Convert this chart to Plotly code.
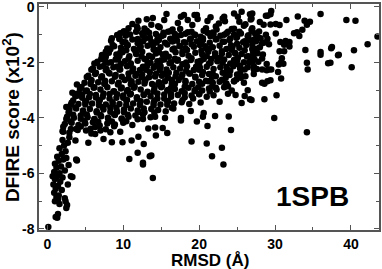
import plotly.graph_objects as go

# ---- native-like streak near RMSD 0-4 ----
streak_x = [0.13, 1.1, 1.4, 1.3, 2.5, 2.6, 2.4, 1.0, 1.2, 0.9, 1.5, 1.1, 0.8, 1.4, 1.7, 1.0, 1.3, 0.9,
            1.6, 2.0, 1.2, 1.8, 1.0, 1.5, 2.1, 1.3, 1.9, 2.4, 1.6, 2.2, 2.7, 2.0, 2.9, 2.5, 3.1, 3.8,
            2.8, 1.9, 2.3, 1.6, 2.7, 3.3, 3.9, 2.3, 1.4, 0.7]
streak_y = [-7.93, -7.57, -7.46, -7.6, -7.25, -7.14, -7.0, -7.0, -6.85, -6.7, -6.8, -6.55, -6.4, -6.45,
            -6.3, -6.2, -6.1, -5.95, -6.0, -6.15, -5.8, -5.75, -5.65, -5.55, -5.5, -5.4, -5.3, -5.2,
            -5.1, -5.0, -4.9, -4.8, -4.7, -5.45, -6.1, -5.5, -5.7, -6.6, -6.9, -7.1, -6.4, -6.13,
            -5.54, -5.9, -6.95, -6.1]

# ---- dense decoy cloud (main rows) ----
core_x = [
    10.1, 11.2, 12.0, 12.8, 13.9, 14.6, 15.4, 16.5, 17.2, 18.0, 19.1, 19.8, 20.6, 21.5, 22.6, 23.4, 24.3, 25.1, 25.9, 26.8, 28.0,
    9.2, 10.0, 10.9, 11.7, 12.6, 13.4, 14.3, 15.0, 15.9, 16.8, 17.6, 18.5, 19.4, 20.2, 21.1, 21.9, 22.8, 23.8, 24.6, 25.5, 26.4, 27.4,
    8.4, 9.5, 10.3, 11.2, 12.1, 12.9, 13.7, 14.7, 15.5, 16.3, 17.1, 18.0, 18.9, 19.7, 20.5, 21.4, 22.3, 23.1, 24.0, 24.9, 25.8, 26.6, 27.5,
    7.9, 8.8, 9.7, 10.6, 11.4, 12.3, 13.2, 14.0, 14.9, 15.8, 16.7, 17.5, 18.4, 19.3, 20.1, 21.0, 21.8, 22.7, 23.6, 24.4, 25.3, 26.2, 27.0, 28.0,
    7.2, 8.1, 9.1, 9.9, 10.8, 11.7, 12.5, 13.4, 14.3, 15.2, 16.0, 16.9, 17.8, 18.6, 19.5, 20.4, 21.2, 22.1, 23.0, 23.9, 24.7, 25.6, 26.5, 27.4, 28.4,
    6.6, 7.5, 8.4, 9.3, 10.2, 11.0, 11.9, 12.8, 13.6, 14.5, 15.4, 16.3, 17.1, 18.0, 18.9, 19.8, 20.6, 21.5, 22.4, 23.3, 24.1, 25.0, 25.9, 26.8, 27.8, 28.9,
    6.0, 6.9, 7.8, 8.7, 9.6, 10.5, 11.3, 12.2, 13.1, 14.0, 14.9, 15.7, 16.6, 17.5, 18.4, 19.3, 20.1, 21.0, 21.9, 22.8, 23.7, 24.5, 25.4, 26.4, 27.6,
    5.4, 6.3, 7.2, 8.1, 9.0, 9.8, 10.7, 11.6, 12.5, 13.4, 14.3, 15.1, 16.0, 16.9, 17.8, 18.7, 19.5, 20.4, 21.3, 22.2, 23.1, 24.0, 25.0, 26.1, 27.2,
    4.9, 5.8, 6.7, 7.6, 8.5, 9.4, 10.2, 11.1, 12.0, 12.9, 13.8, 14.7, 15.5, 16.4, 17.3, 18.2, 19.1, 20.0, 20.9, 21.8, 22.7, 23.6, 24.6,
    4.3, 5.2, 6.1, 7.0, 7.9, 8.8, 9.7, 10.6, 11.4, 12.3, 13.2, 14.1, 15.0, 15.9, 16.8, 17.7, 18.6, 19.5, 20.4, 21.3, 22.3, 23.3, 24.3,
    3.7, 4.6, 5.5, 6.4, 7.3, 8.2, 9.1, 10.0, 10.9, 11.8, 12.7, 13.6, 14.5, 15.4, 16.3, 17.2, 18.1, 19.0, 20.0, 21.0,
    3.2, 4.1, 5.0, 5.9, 6.8, 7.7, 8.6, 9.5, 10.4, 11.3, 12.2, 13.1, 14.0, 14.9, 15.8, 16.7, 17.7, 18.7,
    2.9, 3.8, 4.7, 5.6, 6.5, 7.4, 8.3, 9.2, 10.1, 11.0, 11.9, 12.8, 13.7, 14.6, 15.6, 16.6,
    2.6, 3.5, 4.4, 5.3, 6.2, 7.1, 8.0, 8.9, 9.8, 10.7, 11.6, 12.6, 13.6,
    2.3, 3.2, 4.1, 5.0, 6.0, 6.9, 7.9, 8.9, 10.0, 11.2,
    2.0, 2.9, 4.0, 5.8, 7.0, 8.3, 9.6,
]
core_y = [
    -0.88, -0.62, -0.5, -0.78, -0.4, -0.7, -0.48, -0.82, -0.58, -0.3, -0.66, -0.44, -0.86, -0.38, -0.6, -0.52, -0.8, -0.36, -0.68, -0.46, -0.55,
    -1.02, -0.92, -1.0, -0.9, -1.04, -0.94, -0.98, -1.06, -0.9, -0.98, -1.02, -0.92, -1.0, -1.08, -0.94, -0.98, -1.04, -0.9, -1.0, -0.96, -1.06, -0.98,
    -1.22, -1.16, -1.28, -1.18, -1.24, -1.14, -1.26, -1.2, -1.3, -1.16, -1.22, -1.28, -1.14, -1.24, -1.2, -1.3, -1.16, -1.26, -1.2, -1.12, -1.28, -1.2, -1.24,
    -1.5, -1.42, -1.48, -1.38, -1.52, -1.44, -1.4, -1.54, -1.46, -1.36, -1.5, -1.42, -1.56, -1.44, -1.38, -1.5, -1.46, -1.4, -1.52, -1.44, -1.48, -1.38, -1.52, -1.46,
    -1.74, -1.66, -1.72, -1.64, -1.78, -1.7, -1.62, -1.76, -1.68, -1.72, -1.8, -1.64, -1.7, -1.76, -1.66, -1.72, -1.62, -1.78, -1.68, -1.74, -1.66, -1.7, -1.78, -1.64, -1.72,
    -1.98, -1.92, -2.0, -1.9, -1.96, -2.04, -1.94, -1.88, -2.02, -1.96, -1.9, -2.0, -1.94, -2.06, -1.92, -1.98, -1.88, -2.02, -1.96, -1.9, -2.04, -1.94, -2.0, -1.92, -1.98, -2.06,
    -2.22, -2.16, -2.24, -2.18, -2.26, -2.14, -2.22, -2.28, -2.16, -2.2, -2.12, -2.26, -2.18, -2.22, -2.14, -2.28, -2.2, -2.16, -2.24, -2.18, -2.26, -2.14, -2.22, -2.18, -2.24,
    -2.48, -2.42, -2.5, -2.38, -2.46, -2.52, -2.4, -2.48, -2.44, -2.54, -2.42, -2.48, -2.38, -2.5, -2.44, -2.4, -2.52, -2.46, -2.42, -2.5, -2.38, -2.46, -2.44, -2.5, -2.42,
    -2.74, -2.66, -2.72, -2.78, -2.68, -2.74, -2.64, -2.76, -2.7, -2.66, -2.78, -2.72, -2.68, -2.76, -2.64, -2.72, -2.78, -2.7, -2.66, -2.74, -2.7, -2.76, -2.68,
    -2.96, -3.02, -2.92, -2.98, -2.9, -3.04, -2.94, -3.0, -2.92, -2.98, -3.06, -2.94, -2.9, -3.0, -2.96, -3.04, -2.92, -2.98, -3.02, -2.94, -2.98, -2.9, -3.02,
    -3.22, -3.16, -3.26, -3.18, -3.24, -3.14, -3.28, -3.2, -3.16, -3.26, -3.18, -3.22, -3.3, -3.16, -3.24, -3.18, -3.26, -3.2, -3.14, -3.24,
    -3.46, -3.5, -3.42, -3.48, -3.4, -3.52, -3.44, -3.5, -3.38, -3.48, -3.54, -3.42, -3.46, -3.52, -3.4, -3.48, -3.44, -3.5,
    -3.72, -3.66, -3.74, -3.68, -3.76, -3.7, -3.64, -3.78, -3.7, -3.66, -3.74, -3.8, -3.68, -3.72, -3.76, -3.66,
    -3.96, -4.0, -3.92, -3.98, -4.04, -3.94, -4.0, -3.9, -4.02, -3.96, -3.92, -4.04, -3.98,
    -4.22, -4.18, -4.26, -4.2, -4.16, -4.28, -4.2, -4.24, -4.18, -4.26,
    -4.48, -4.54, -4.44, -4.56, -4.46, -4.52, -4.5,
]

# ---- dense decoy cloud (in-between rows, irregular, with gaps) ----
core2_x = [
    10.4, 11.9, 12.5, 13.1, 14.8, 15.3, 16.2, 17.5, 18.2, 19.0, 20.9, 21.8, 22.3, 23.6, 24.6, 25.3, 26.9,
    9.5, 10.3, 11.9, 12.7, 13.5, 14.5, 15.3, 16.2, 17.0, 18.8, 19.5, 20.5, 21.5, 22.2, 23.3, 24.1, 25.0, 26.5, 27.8,
    8.6, 9.9, 10.5, 11.9, 12.6, 13.9, 14.4, 16.5, 17.4, 18.2, 19.0, 20.3, 20.8, 23.3, 24.2, 25.0, 26.0, 27.0, 28.6,
    7.7, 8.3, 9.6, 10.4, 11.6, 12.1, 14.2, 14.7, 15.6, 16.5, 17.8, 18.2, 20.3, 21.3, 22.1, 23.0, 24.3, 24.8, 26.0, 27.1, 27.6,
    7.1, 7.7, 9.0, 9.5, 10.7, 12.4, 13.0, 13.8, 15.0, 15.5, 16.8, 17.2, 19.0, 20.2, 21.0, 21.6, 22.8, 24.6, 25.1, 26.3, 27.3, 28.3,
    6.2, 7.4, 8.0, 9.2, 9.7, 10.9, 12.6, 13.2, 14.3, 14.9, 16.1, 17.8, 18.3, 19.6, 20.0, 21.3, 23.1, 23.6, 24.8, 25.4, 26.6, 27.2,
    5.8, 6.4, 7.7, 8.2, 9.5, 11.2, 11.7, 13.0, 13.5, 14.8, 15.3, 17.0, 18.3, 18.8, 20.0, 20.5, 21.8, 23.6, 24.1, 25.4, 26.0,
    5.2, 5.8, 7.1, 7.6, 8.9, 10.7, 11.1, 12.4, 12.9, 14.2, 15.9, 16.4, 17.7, 18.2, 19.5, 21.2, 21.7, 23.0, 23.5, 24.9,
    4.5, 5.7, 6.2, 7.5, 9.3, 9.8, 11.0, 11.5, 12.8, 14.6, 15.1, 16.3, 16.8, 18.1, 19.9, 20.4, 21.7, 22.2, 23.5,
    3.9, 5.1, 5.6, 7.4, 8.7, 9.2, 10.5, 11.0, 12.7, 14.0, 14.5, 15.8, 16.3, 18.1, 19.4, 20.0, 21.4,
    3.4, 4.6, 5.1, 6.4, 6.9, 8.2, 10.0, 10.5, 11.8, 12.3, 14.1, 15.4, 15.9, 17.8, 19.2,
    3.1, 3.7, 5.0, 6.8, 7.3, 8.6, 9.1, 10.4, 12.2, 12.7, 14.0, 15.8, 16.4,
    2.8, 3.4, 4.7, 5.2, 6.5, 7.0, 8.3, 8.8, 10.1, 10.6, 12.0, 12.6, 14.1,
    2.5, 3.1, 4.4, 4.9, 6.2, 6.7, 8.0, 8.5, 9.8, 10.4, 11.9,
    2.1, 3.8, 4.4, 5.7, 6.3, 7.7, 8.8,
]
core2_y = [
    -0.92, -0.78, -0.95, -0.86, -0.74, -0.94, -0.88, -0.8, -0.97, -0.9, -0.77, -0.93, -0.82, -0.95, -0.79, -0.9, -0.84,
    -1.14, -1.04, -1.16, -1.02, -1.12, -1.18, -1.03, -1.15, -1.08, -1.17, -1.02, -1.13, -1.06, -1.18, -1.01, -1.14, -1.09, -1.03, -1.12,
    -1.38, -1.27, -1.4, -1.31, -1.24, -1.39, -1.29, -1.25, -1.41, -1.3, -1.35, -1.27, -1.42, -1.26, -1.39, -1.33, -1.24, -1.37, -1.29,
    -1.62, -1.53, -1.66, -1.57, -1.6, -1.51, -1.55, -1.63, -1.69, -1.54, -1.62, -1.5, -1.58, -1.52, -1.67, -1.6, -1.55, -1.69, -1.57, -1.63, -1.51,
    -1.88, -1.79, -1.9, -1.77, -1.86, -1.78, -1.89, -1.81, -1.93, -1.76, -1.87, -1.91, -1.85, -1.94, -1.78, -1.88, -1.83, -1.92, -1.84, -1.79, -1.9, -1.86,
    -2.04, -2.13, -2.02, -2.15, -2.06, -2.11, -2.16, -2.05, -2.12, -2.18, -2.03, -2.07, -2.01, -2.16, -2.1, -2.04, -2.02, -2.17, -2.06, -2.12, -2.0, -2.14,
    -2.27, -2.38, -2.29, -2.4, -2.26, -2.31, -2.42, -2.27, -2.36, -2.29, -2.41, -2.38, -2.3, -2.4, -2.27, -2.35, -2.42, -2.37, -2.3, -2.4, -2.26,
    -2.53, -2.64, -2.55, -2.66, -2.52, -2.57, -2.68, -2.54, -2.62, -2.51, -2.56, -2.64, -2.52, -2.67, -2.55, -2.68, -2.53, -2.63, -2.56, -2.62,
    -2.89, -2.78, -2.9, -2.77, -2.8, -2.91, -2.79, -2.87, -2.76, -2.8, -2.86, -2.92, -2.78, -2.88, -2.9, -2.77, -2.87, -2.92, -2.8,
    -3.13, -3.03, -3.14, -3.12, -3.05, -3.15, -3.04, -3.13, -3.16, -3.05, -3.12, -3.02, -3.14, -3.11, -3.03, -3.15, -3.05,
    -3.38, -3.28, -3.4, -3.27, -3.37, -3.3, -3.28, -3.36, -3.31, -3.4, -3.38, -3.3, -3.41, -3.37, -3.3,
    -3.53, -3.63, -3.52, -3.55, -3.62, -3.51, -3.65, -3.54, -3.52, -3.66, -3.55, -3.53, -3.64,
    -3.8, -3.89, -3.79, -3.88, -3.81, -3.9, -3.78, -3.87, -3.8, -3.89, -3.79, -3.88, -3.82,
    -4.04, -4.13, -4.03, -4.12, -4.05, -4.14, -4.02, -4.13, -4.04, -4.12, -4.05,
    -4.32, -4.4, -4.31, -4.39, -4.33, -4.41, -4.3,
]

# ---- sparse fringe points ----
fringe_x = [27.0, 28.8, 29.5, 28.5, 29.4, 30.1, 30.6, 31.5, 33.0, 36.0, 33.9, 34.6, 34.2, 33.6, 32.9, 32.5,
            33.2, 39.4, 40.6, 43.5, 42.2, 40.4, 40.1, 38.3, 37.4, 37.3, 37.0, 36.0, 36.0, 34.0, 34.2, 34.3,
            31.9, 31.2, 30.6, 30.9, 30.8, 30.5, 31.1, 30.4, 30.8, 29.4, 28.6, 30.2, 28.6, 26.9, 29.9, 34.2,
            29.5, 28.9, 28.3, 27.2, 27.7, 27.2, 27.0, 30.1, 30.7, 31.4, 31.9, 31.2, 28.8, 29.0, 29.2, 28.1,
            28.3, 27.6, 27.2, 27.0, 38.4, 37.5,
            24.2, 21.1, 19.0, 21.0, 23.0, 21.7, 23.2, 13.9, 10.8, 11.9, 12.6, 12.6, 13.5, 12.7, 14.3, 15.2,
            15.8, 19.7, 17.6, 14.2, 15.5, 17.6, 20.5, 20.6, 22.1, 23.9, 18.9, 20.2, 22.7, 21.9, 23.8, 24.8,
            26.0, 26.7, 26.4, 25.6, 13.7, 7.4, 8.5, 9.9, 6.3, 5.1, 3.7, 11.1, 12.0, 13.3, 14.2, 5.4,
            15.7, 13.1, 13.7, 17.6, 18.5, 19.4, 11.8, 10.7, 9.6, 8.5, 7.6, 7.2, 23.3, 24.6, 25.6, 26.7,
            26.9, 19.7, 21.1, 22.2, 23.1, 25.3, 26.1, 27.0, 27.9, 29.0, 29.4, 25.5, 25.9, 24.6, 23.8, 29.0,
            28.3, 29.2, 2.5, 3.3, 3.9, 4.1, 3.1, 2.1]
fringe_y = [-0.24, -0.32, -0.15, -0.65, -0.64, -0.62, -0.66, -0.48, -0.35, -0.26, -0.5, -0.54, -0.65, -0.83,
            -0.92, -0.95, -1.05, -0.48, -0.5, -1.07, -1.35, -1.57, -2.18, -1.75, -1.49, -2.02, -2.03, -1.63,
            -1.73, -1.56, -2.02, -2.26, -1.43, -1.6, -1.6, -1.85, -2.0, -2.08, -2.05, -2.35, -2.58, -2.65,
            -2.77, -3.19, -3.33, -3.36, -4.01, -4.52, -2.26, -2.29, -2.26, -2.26, -1.67, -1.73, -2.02, -0.96,
            -1.27, -1.23, -1.27, -1.37, -1.01, -1.15, -1.35, -1.13, -1.31, -0.95, -1.19, -0.89, -1.73, -1.45,
            -4.44, -4.29, -4.85, -4.92, -5.08, -5.38, -5.68, -6.17, -5.48, -5.26, -5.62, -5.68, -5.38, -4.94,
            -4.64, -4.37, -4.55, -4.13, -4.1, -3.96, -4.01, -4.01, -3.96, -3.83, -3.93, -3.95, -3.75, -3.45,
            -3.42, -3.19, -3.13, -3.18, -3.21, -3.33, -3.01, -3.47, -5.36, -4.76, -4.88, -4.88, -4.58, -4.46,
            -4.82, -4.82, -4.68, -4.38, -4.35, -4.9,
            -0.26, -0.45, -0.65, -0.36, -0.48, -0.3, -0.71, -0.77, -0.95, -1.13, -1.85, -1.79, -0.36, -0.24,
            -0.18, -0.27, -0.42, -0.3, -0.51, -0.71, -0.42, -0.54, -0.63, -0.77, -0.89, -0.32, -0.27, -2.56,
            -2.74, -2.68, -2.86, -2.68, -2.74, -2.26, -3.61, -3.1, -2.8, -3.2, -4.4, -4.5]

x_tick_vals = [0, 10, 20, 30, 40]
x_tick_text = ["0", "10", "20", "30", "40"]
x_minor_vals = [5, 15, 25, 35]
y_tick_vals = [0, -2, -4, -6, -8]
y_tick_text = ["0", "-2", "-4", "-6", "-8"]
y_minor_vals = [-1, -3, -5, -7]

xs = streak_x + core_x + core2_x + fringe_x
ys = streak_y + core_y + core2_y + fringe_y

fig = go.Figure()
fig.add_trace(go.Scatter(x=xs, y=ys, mode="markers",
                         marker=dict(color="black", size=6.5, line=dict(width=0)),
                         showlegend=False, hoverinfo="skip"))

font = dict(family="Liberation Sans", color="black", weight="bold")
axis_common = dict(showgrid=False, zeroline=False, showline=True, linecolor="#555555",
                   linewidth=1.5, mirror="allticks", ticks="inside", ticklen=5, tickwidth=1.2,
                   tickcolor="#555555", tickfont=dict(size=14, **font), automargin=False,
                   ticklabeloverflow="allow")

fig.update_xaxes(range=[-1.1, 43.7], tickmode="array", tickvals=x_tick_vals, ticktext=x_tick_text,
                 minor=dict(tickmode="array", tickvals=x_minor_vals, ticks="inside", ticklen=3,
                            tickcolor="#555555", tickwidth=1.2),
                 **axis_common)
fig.update_yaxes(range=[-8.04, 0.1], tickmode="array", tickvals=y_tick_vals, ticktext=y_tick_text,
                 minor=dict(tickmode="array", tickvals=y_minor_vals, ticks="inside", ticklen=3,
                            tickcolor="#555555", tickwidth=1.2),
                 **axis_common)

fig.update_layout(
    width=382, height=269,
    margin=dict(l=39, r=3, t=4, b=39),
    paper_bgcolor="white", plot_bgcolor="white",
    annotations=[
        dict(text="RMSD (Å)", xref="paper", yref="paper", x=0.502, y=-0.135,
             xanchor="center", yanchor="middle", showarrow=False, font=dict(size=17, **font)),
        dict(text="DFIRE score (x10<sup>2</sup>)", xref="paper", yref="paper", x=-0.082, y=0.5,
             xanchor="center", yanchor="middle", textangle=-90, showarrow=False,
             font=dict(size=19, **font)),
        dict(text="1SPB", xref="paper", yref="paper", x=0.805, y=0.15,
             xanchor="center", yanchor="middle", showarrow=False, font=dict(size=28, **font)),
    ],
)

fig.write_html("out.html", config={"displayModeBar": False},
               post_script="document.body.style.margin='0';document.body.style.overflow='hidden';")
